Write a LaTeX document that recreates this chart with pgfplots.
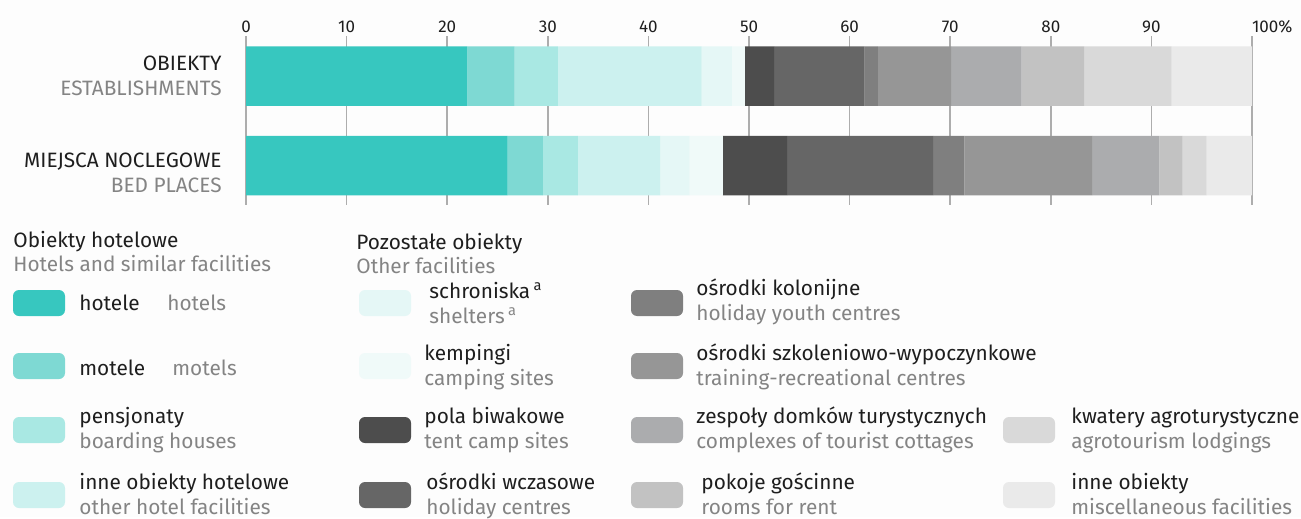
\documentclass[border=0pt]{standalone}
\usepackage{pgfplots}
\pgfplotsset{compat=1.18}
\usepackage{fontspec}
\setmainfont{Fira Sans}
\definecolor{bg}{HTML}{FDFDFD}
\definecolor{tblack}{HTML}{1E1E1E}
\definecolor{tgray}{HTML}{848484}
\definecolor{gridc}{HTML}{ADADAD}
\definecolor{c1}{HTML}{37C7BF}
\definecolor{c2}{HTML}{7ED9D3}
\definecolor{c3}{HTML}{A9E8E3}
\definecolor{c4}{HTML}{CCF1EF}
\definecolor{c5}{HTML}{E5F7F6}
\definecolor{c6}{HTML}{F0FAF9}
\definecolor{c7}{HTML}{4D4D4D}
\definecolor{c8}{HTML}{666666}
\definecolor{c9}{HTML}{7F7F7F}
\definecolor{c10}{HTML}{969696}
\definecolor{c11}{HTML}{ABACAE}
\definecolor{c12}{HTML}{C2C2C2}
\definecolor{c13}{HTML}{D9D9D9}
\definecolor{c14}{HTML}{EAEAEA}
\newcommand\lf{\fontsize{10.4}{12.5}\selectfont}
\begin{document}
\begin{tikzpicture}
\begin{scope}[x=0.5pt,y=-0.5pt,shift={(0pt,258.5pt)}]
\fill[bg] (0,0) rectangle (1301,517);
\useasboundingbox (0,0) rectangle (1301,517);
\end{scope}
\begin{axis}[
  at={(123pt,156pt)}, anchor=south west,
  scale only axis, width=503pt, height=84.5pt,
  xbar stacked, bar width=29.75pt,
  xmin=0, xmax=100, ymin=-0.447, ymax=1.441, y dir=reverse,
  axis line style={draw=none},
  major tick length=0pt,
  xtick={0,10,...,100},
  xticklabels={0,10,20,30,40,50,60,70,80,90,\rlap{100\%}},
  xticklabel pos=upper,
  xticklabel style={font=\fontsize{8.5}{10}\selectfont, text=tblack, inner sep=0pt, yshift=1.35pt},
  ytick={0,1.08},
  yticklabels={{OBIEKTY\\\textcolor{tgray}{ESTABLISHMENTS}},{MIEJSCA NOCLEGOWE\\\textcolor{tgray}{BED PLACES}}},
  yticklabel style={align=right, font=\lf, text=tblack, inner sep=0pt, xshift=-12pt},
  xmajorgrids, grid style={gridc, line width=0.75pt},
  clip=false,
]
\addplot[fill=c1, draw=none] coordinates {(22.0,0) (26.0,1)};
\addplot[fill=c2, draw=none] coordinates {(4.7,0) (3.5,1)};
\addplot[fill=c3, draw=none] coordinates {(4.3,0) (3.5,1)};
\addplot[fill=c4, draw=none] coordinates {(14.3,0) (8.2,1)};
\addplot[fill=c5, draw=none] coordinates {(3.0,0) (2.9,1)};
\addplot[fill=c6, draw=none] coordinates {(1.3,0) (3.3,1)};
\addplot[fill=c7, draw=none] coordinates {(2.9,0) (6.4,1)};
\addplot[fill=c8, draw=none] coordinates {(9.0,0) (14.5,1)};
\addplot[fill=c9, draw=none] coordinates {(1.3,0) (3.1,1)};
\addplot[fill=c10, draw=none] coordinates {(7.3,0) (12.7,1)};
\addplot[fill=c11, draw=none] coordinates {(7.0,0) (6.7,1)};
\addplot[fill=c12, draw=none] coordinates {(6.2,0) (2.3,1)};
\addplot[fill=c13, draw=none] coordinates {(8.7,0) (2.4,1)};
\addplot[fill=c14, draw=none] coordinates {(8.0,0) (4.5,1)};
\end{axis}
\begin{scope}[x=0.5pt,y=-0.5pt,shift={(0pt,258.5pt)},
  lbl/.style={anchor=base west, inner sep=0pt, font=\lf, text=tblack},
  sub/.style={anchor=base west, inner sep=0pt, font=\lf, text=tgray}]
% legend swatches
\foreach \x/\y/\c in {13/290/c1,13/353/c2,13/417/c3,13/482/c4,
  359/290/c5,359/353/c6,359/417/c7,359/482/c8,
  631/290/c9,631/353/c10,631/417/c11,631/482/c12,
  1003/417/c13,1003/482/c14}
  \fill[\c, rounded corners=3pt] (\x,\y) rectangle ++(52,26);
% headers
\node[lbl] at (13,247) {Obiekty hotelowe};
\node[sub] at (13,271) {Hotels and similar facilities};
\node[lbl] at (356,249.5) {Pozostałe obiekty};
\node[sub] at (356,273.5) {Other facilities};
% column 1
\node[lbl] at (79,310) {hotele};
\node[sub] at (167,310) {hotels};
\node[lbl] at (79,375) {motele};
\node[sub] at (172,375) {motels};
\node[lbl] at (79,423) {pensjonaty};
\node[sub] at (79,448) {boarding houses};
\node[lbl] at (79,489) {inne obiekty hotelowe};
\node[sub] at (79,514) {other hotel facilities};
% column 2
\node[lbl] at (429,298) {schroniska\,\textsuperscript{a}};
\node[sub] at (429,323) {shelters\,\textsuperscript{a}};
\node[lbl] at (424,360) {kempingi};
\node[sub] at (424,385) {camping sites};
\node[lbl] at (424,423) {pola biwakowe};
\node[sub] at (424,448) {tent camp sites};
\node[lbl] at (426,489) {ośrodki wczasowe};
\node[sub] at (426,514) {holiday centres};
% column 3
\node[lbl] at (696,295) {ośrodki kolonijne};
\node[sub] at (696,320) {holiday youth centres};
\node[lbl] at (696,360) {ośrodki szkoleniowo-wypoczynkowe};
\node[sub] at (696,385) {training-recreational centres};
\node[lbl] at (696,423) {zespoły domków turystycznych};
\node[sub] at (696,448) {complexes of tourist cottages};
\node[lbl] at (701,489) {pokoje gościnne};
\node[sub] at (701,514) {rooms for rent};
% column 4
\node[lbl] at (1071,423) {kwatery agroturystyczne};
\node[sub] at (1071,448) {agrotourism lodgings};
\node[lbl] at (1071,489) {inne obiekty};
\node[sub] at (1071,514) {miscellaneous facilities};
\end{scope}
\end{tikzpicture}
\end{document}
